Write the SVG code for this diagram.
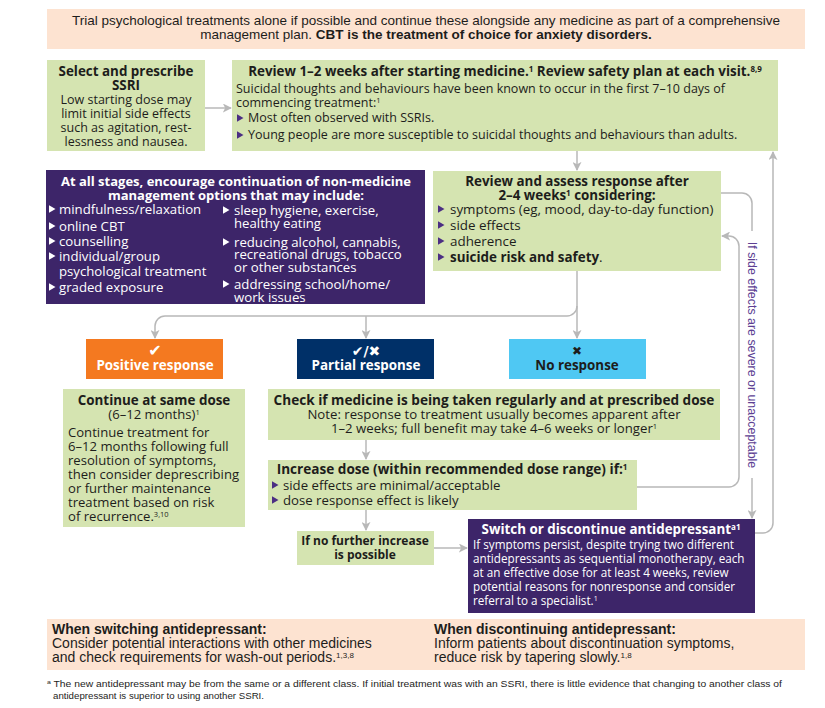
<svg xmlns="http://www.w3.org/2000/svg" width="825" height="708" viewBox="0 0 825 708">
<style>
.g{fill:#d5e4b1}
.pe{fill:#fde3d1}
.pu{fill:#3d2569}
.t{font-family:"Open Sans","DejaVu Sans",sans-serif;font-size:13.1px;fill:#1d1d1b}
.s{font-size:12.5px}
.p{font-size:13.2px}
.sw{font-size:11.7px}
.b{font-weight:bold;font-size:13.4px}
.w{fill:#fff}
.n{font-family:"Liberation Sans",Arial,sans-serif;font-size:13.5px;fill:#1d1d1b}
.c{text-anchor:middle}
.conn{fill:none;stroke:#b8b8b8;stroke-width:1.5}
.bl{fill:#4b2e83}
.bw{fill:#fff}
.sym{font-family:"DejaVu Sans",sans-serif;font-weight:bold}
.lab{font-family:"Liberation Sans",Arial,sans-serif;font-size:12.4px;fill:#5d3f93}
</style>
<defs>
<marker id="ah" viewBox="0 0 10 10" refX="9" refY="5" markerWidth="9" markerHeight="9" orient="auto" markerUnits="userSpaceOnUse">
<path d="M0,0 L10,5 L0,10 L2.5,5Z" fill="#b8b8b8"/>
</marker>
<path id="tri" d="M0,-3.8 L6.5,0 L0,3.8Z"/>
</defs>

<g id="connectors">
<path class="conn" d="M205,108 H231" marker-end="url(#ah)"/>
<path class="conn" d="M577,151 V170" marker-end="url(#ah)"/>
<path class="conn" d="M577,271 V338" marker-end="url(#ah)"/>
<path class="conn" d="M577,306 A10,10 0 0 1 567,316 H165 A10,10 0 0 0 155,326 V338" marker-end="url(#ah)"/>
<path class="conn" d="M366,316 V338" marker-end="url(#ah)"/>
<path class="conn" d="M366,440 V459" marker-end="url(#ah)"/>
<path class="conn" d="M366,510 V530" marker-end="url(#ah)"/>
<path class="conn" d="M434,548 H467" marker-end="url(#ah)"/>
<path class="conn" d="M721,193 H742 A10,10 0 0 1 752,203 V231"/>
<path class="conn" d="M752,478 V518" marker-end="url(#ah)"/>
<path class="conn" d="M637,487 H729 A10,10 0 0 0 739,477 V246 A10,10 0 0 0 729,236 H722" marker-end="url(#ah)"/>
<path class="conn" d="M755,533 H763 A10,10 0 0 0 773,523 V152" marker-end="url(#ah)"/>
<text class="lab c" transform="translate(748,355) rotate(90)" x="0" y="0">If side effects are severe or unacceptable</text>
</g>

<g id="banner">
<rect class="pe" x="47" y="9" width="758" height="40"/>
<text class="n c" x="426" y="25">Trial psychological treatments alone if possible and continue these alongside any medicine as part of a comprehensive</text>
<text class="n c" x="426" y="39">management plan. <tspan font-weight="bold">CBT is the treatment of choice for anxiety disorders.</tspan></text>
</g>

<g id="select">
<rect class="g" x="47" y="60" width="158" height="91"/>
<text class="t b c" x="126" y="76">Select and prescribe</text>
<text class="t b c" x="126" y="90">SSRI</text>
<text class="t s c" x="126" y="104">Low starting dose may</text>
<text class="t s c" x="126" y="118">limit initial side effects</text>
<text class="t s c" x="126" y="132">such as agitation, rest-</text>
<text class="t s c" x="126" y="146">lessness and nausea.</text>
</g>

<g id="review">
<rect class="g" x="232" y="60" width="546" height="91"/>
<text class="t b c" x="505" y="76">Review 1–2 weeks after starting medicine.<tspan dy="-4" style="font-size:8px">1</tspan><tspan dy="4"> Review safety plan at each visit.</tspan><tspan dy="-4" style="font-size:8px">8,9</tspan></text>
<text class="t s" x="236" y="93">Suicidal thoughts and behaviours have been known to occur in the first 7–10 days of</text>
<text class="t s" x="236" y="107">commencing treatment:<tspan dy="-4" style="font-size:7.5px">1</tspan></text>
<use href="#tri" class="bl" x="237" y="118"/>
<text class="t s" x="248" y="122">Most often observed with SSRIs.</text>
<use href="#tri" class="bl" x="237" y="135"/>
<text class="t s" x="248" y="139">Young people are more susceptible to suicidal thoughts and behaviours than adults.</text>
</g>

<g id="nonmedicine">
<rect class="pu" x="46" y="170" width="379" height="134"/>
<text class="t b c w" x="236" y="186" style="font-size:13px">At all stages, encourage continuation of non-medicine</text>
<text class="t b c w" x="236" y="200" style="font-size:13px">management options that may include:</text>
<use href="#tri" class="bw" x="49" y="209"/>
<text class="t p w" x="59" y="214">mindfulness/relaxation</text>
<use href="#tri" class="bw" x="49" y="226"/>
<text class="t p w" x="59" y="231">online CBT</text>
<use href="#tri" class="bw" x="49" y="241"/>
<text class="t p w" x="59" y="246">counselling</text>
<use href="#tri" class="bw" x="49" y="256"/>
<text class="t p w" x="59" y="261">individual/group</text>
<text class="t p w" x="59" y="276">psychological treatment</text>
<use href="#tri" class="bw" x="49" y="287"/>
<text class="t p w" x="59" y="292">graded exposure</text>
<use href="#tri" class="bw" x="223" y="210"/>
<text class="t p w" x="234" y="215">sleep hygiene, exercise,</text>
<text class="t p w" x="234" y="228">healthy eating</text>
<use href="#tri" class="bw" x="223" y="242"/>
<text class="t p w" x="234" y="247">reducing alcohol, cannabis,</text>
<text class="t p w" x="234" y="259">recreational drugs, tobacco</text>
<text class="t p w" x="234" y="272">or other substances</text>
<use href="#tri" class="bw" x="223" y="284"/>
<text class="t p w" x="234" y="289">addressing school/home/</text>
<text class="t p w" x="234" y="302">work issues</text>
</g>

<g id="assess">
<rect class="g" x="433" y="171" width="288" height="100"/>
<text class="t b c" x="577" y="186">Review and assess response after</text>
<text class="t b c" x="577" y="200">2–4 weeks<tspan dy="-4" style="font-size:8px">1</tspan><tspan dy="4"> considering:</tspan></text>
<use href="#tri" class="bl" x="438" y="209"/>
<text class="t" x="450" y="214" style="font-size:13.4px">symptoms (eg, mood, day-to-day function)</text>
<use href="#tri" class="bl" x="438" y="225"/>
<text class="t" x="450" y="230" style="font-size:13.4px">side effects</text>
<use href="#tri" class="bl" x="438" y="241"/>
<text class="t" x="450" y="246" style="font-size:13.4px">adherence</text>
<use href="#tri" class="bl" x="438" y="257"/>
<text class="t" x="450" y="262" style="font-size:13.4px"><tspan font-weight="bold">suicide risk and safety</tspan>.</text>
</g>

<g id="positive">
<rect x="86" y="339" width="137" height="40" fill="#f47920"/>
<text class="sym c" x="155" y="356" font-size="16" fill="#fff">✔</text>
<text class="t b c w" x="155" y="370">Positive response</text>
</g>

<g id="partial">
<rect x="297" y="339" width="137" height="40" fill="#003068"/>
<text class="sym c" x="366" y="356" font-size="14" fill="#fff">✔/✖</text>
<text class="t b c w" x="366" y="370">Partial response</text>
</g>

<g id="noresponse">
<rect x="509" y="339" width="137" height="40" fill="#4fc8f3"/>
<text class="sym c" x="577" y="355" font-size="12" fill="#1d1d1b">✖</text>
<text class="t b c" x="577" y="370">No response</text>
</g>

<g id="continue">
<rect class="g" x="63" y="389" width="182" height="138"/>
<text class="t b c" x="154" y="405">Continue at same dose</text>
<text class="t c" x="154" y="419">(6–12 months)<tspan dy="-4" style="font-size:7.5px">1</tspan></text>
<text class="t" x="68" y="437">Continue treatment for</text>
<text class="t" x="68" y="451">6–12 months following full</text>
<text class="t" x="68" y="465">resolution of symptoms,</text>
<text class="t" x="68" y="479">then consider deprescribing</text>
<text class="t" x="68" y="493">or further maintenance</text>
<text class="t" x="68" y="507">treatment based on risk</text>
<text class="t" x="68" y="521">of recurrence.<tspan dy="-4" style="font-size:7.5px">3,10</tspan></text>
</g>

<g id="check">
<rect class="g" x="268" y="389" width="452" height="51"/>
<text class="t b c" x="494" y="405" style="font-size:13.6px">Check if medicine is being taken regularly and at prescribed dose</text>
<text class="t c" x="494" y="419" style="font-size:13.2px">Note: response to treatment usually becomes apparent after</text>
<text class="t c" x="494" y="433" style="font-size:13.2px">1–2 weeks; full benefit may take 4–6 weeks or longer<tspan dy="-4" style="font-size:7.5px">1</tspan></text>
</g>

<g id="increase">
<rect class="g" x="268" y="460" width="369" height="50"/>
<text class="t b c" x="452" y="474" style="font-size:13.6px">Increase dose (within recommended dose range) if:<tspan dy="-4" style="font-size:8px">1</tspan></text>
<use href="#tri" class="bl" x="272" y="485"/>
<text class="t" x="283" y="490" style="font-size:13.2px">side effects are minimal/acceptable</text>
<use href="#tri" class="bl" x="272" y="500"/>
<text class="t" x="283" y="505" style="font-size:13.2px">dose response effect is likely</text>
</g>

<g id="nofurther">
<rect class="g" x="297" y="531" width="137" height="34"/>
<text class="t b c" x="365" y="545" style="font-size:12px">If no further increase</text>
<text class="t b c" x="365" y="559" style="font-size:12px">is possible</text>
</g>

<g id="switch">
<rect class="pu" x="468" y="519" width="287" height="94"/>
<text class="t b c w" x="611" y="534">Switch or discontinue antidepressant<tspan dy="-4" style="font-size:8px">a1</tspan></text>
<text class="t sw w" x="473" y="549">If symptoms persist, despite trying two different</text>
<text class="t sw w" x="473" y="563">antidepressants as sequential monotherapy, each</text>
<text class="t sw w" x="473" y="577">at an effective dose for at least 4 weeks, review</text>
<text class="t sw w" x="473" y="591">potential reasons for nonresponse and consider</text>
<text class="t sw w" x="473" y="605">referral to a specialist.<tspan dy="-4" style="font-size:7px">1</tspan></text>
</g>

<g id="bottom">
<rect class="pe" x="47" y="619" width="758" height="51"/>
<text class="n" x="52" y="634" style="font-weight:bold;font-size:14px">When switching antidepressant:</text>
<text class="n" x="52" y="648" style="font-size:14px">Consider potential interactions with other medicines</text>
<text class="n" x="52" y="662" style="font-size:14px">and check requirements for wash-out periods.<tspan dy="-4" style="font-size:8px">1,3,8</tspan></text>
<text class="n" x="434" y="634" style="font-weight:bold;font-size:14px">When discontinuing antidepressant:</text>
<text class="n" x="434" y="648" style="font-size:14px">Inform patients about discontinuation symptoms,</text>
<text class="n" x="434" y="662" style="font-size:14px">reduce risk by tapering slowly.<tspan dy="-4" style="font-size:8px">1,8</tspan></text>
</g>

<g id="footnote">
<text class="n" x="47" y="687" style="font-size:8.2px" textLength="735" lengthAdjust="spacingAndGlyphs"><tspan dy="-3" style="font-size:5.5px">a</tspan><tspan dy="3"> The new antidepressant may be from the same or a different class. If initial treatment was with an SSRI, there is little evidence that changing to another class of</tspan></text>
<text class="n" x="53" y="699" style="font-size:8.2px" textLength="211" lengthAdjust="spacingAndGlyphs">antidepressant is superior to using another SSRI.</text>
</g>
</svg>
